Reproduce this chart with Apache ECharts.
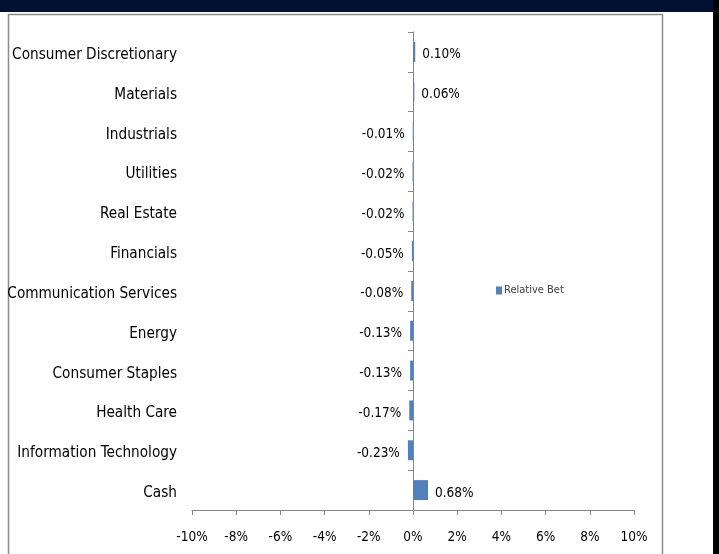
<!DOCTYPE html>
<html>
<head>
<meta charset="utf-8">
<script src="https://cdn.jsdelivr.net/npm/echarts@6/dist/echarts.min.js"></script>
<style>
html,body{margin:0;padding:0;background:#fff;}
#c{width:719px;height:554px;}
</style>
</head>
<body>
<div id="c"></div>
<script>
var categories = ["Consumer Discretionary","Materials","Industrials","Utilities","Real Estate","Financials","Communication Services","Energy","Consumer Staples","Health Care","Information Technology","Cash"];
var relativeBet = [0.10,0.06,-0.01,-0.02,-0.02,-0.05,-0.08,-0.13,-0.13,-0.17,-0.23,0.68];
var xTicks = [-10,-8,-6,-4,-2,0,2,4,6,8,10];
var seriesName = "Relative Bet";

var FONT = "'Liberation Sans Narrow','DejaVu Sans Condensed',sans-serif";
var chart = echarts.init(document.getElementById('c'), null, {renderer:'canvas'});
var data = relativeBet.map(function(v){
  return {value:v, label:{position: v < 0 ? 'left' : 'right', distance: v<0 ? 8 : 7}};
});
chart.setOption({
  backgroundColor:'#ffffff',
  animation:false,
  graphic:[
    {type:'rect', shape:{x:0,y:0,width:719,height:12}, style:{fill:'#001233'}},
    {type:'rect', shape:{x:713,y:0,width:6,height:554}, style:{fill:'#000000'}},
    {type:'rect', shape:{x:8.5,y:14.5,width:654,height:560}, style:{fill:'none',stroke:'#8c8c8c',lineWidth:1.5}}
  ],
  legend:{
    left:496, top:285, padding:0, itemWidth:6, itemHeight:8, itemGap:4,
    icon:'rect',
    textStyle:{fontFamily:FONT, fontSize:11, color:'#404040', padding:[0,0,0,-3]},
    data:[seriesName]
  },
  grid:{left:192, right:85, top:32, bottom:44, containLabel:false, outerBoundsMode:'none'},
  xAxis:{
    type:'value', min:-10, max:10, interval:2,
    axisLine:{show:true, onZero:false, lineStyle:{color:'#868686'}},
    axisTick:{show:true, length:5, lineStyle:{color:'#868686'}},
    splitLine:{show:false},
    axisLabel:{fontFamily:FONT, fontSize:13.5, color:'#000', margin:20, formatter:function(v){return v+'%';}}
  },
  yAxis:[{
    type:'category', data:categories, inverse:true, position:'left',
    axisLine:{show:false, onZero:false}, axisTick:{show:false},
    axisLabel:{fontFamily:FONT, fontSize:15.2, color:'#000', margin:15, verticalAlign:'top', lineHeight:6}
  },{
    type:'category', data:categories, inverse:true, position:'left',
    axisLine:{show:true, onZero:true, lineStyle:{color:'#868686'}},
    axisTick:{show:true, length:5, lineStyle:{color:'#868686'}},
    axisLabel:{show:false}
  }],
  series:[{
    name:seriesName, type:'bar', yAxisIndex:0, barWidth:'50%',
    itemStyle:{color:'#4F81BD'},
    label:{show:true, fontFamily:FONT, fontSize:13.5, color:'#000', offset:[0,3],
      formatter:function(p){return p.value.toFixed(2)+'%';}},
    data:data
  }]
});
</script>
</body>
</html>
